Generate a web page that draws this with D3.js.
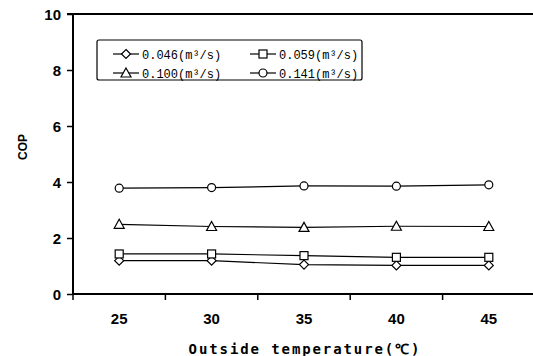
<!DOCTYPE html>
<html><head><meta charset="utf-8">
<script src="https://cdn.jsdelivr.net/npm/d3@7"></script>
<style>body{margin:0;background:#fff;} svg{display:block;}</style>
</head><body>
<svg id="c" width="533" height="356"></svg>
<script>
const categories = ["25","30","35","40","45"];
const seriesNames = ["0.046(m³/s)","0.059(m³/s)","0.100(m³/s)","0.141(m³/s)"];
const s046 = [1.19,1.19,1.05,1.02,1.02];
const s059 = [1.43,1.43,1.37,1.31,1.31];
const s100 = [2.49,2.41,2.38,2.42,2.41];
const s141 = [3.78,3.80,3.86,3.85,3.90];
const yTicks = [0,2,4,6,8,10];
const markers = ["diamond","square","triangle","circle"];
const allSeries = [s046,s059,s100,s141];

const svg = d3.select("#c");
const L=73, R=535, T=14, B=294;
const x = d3.scaleBand().domain(categories).range([L,R]).paddingInner(0).paddingOuter(0);
const y = d3.scaleLinear().domain([0,10]).range([B,T]);

// frame top
svg.append("line").attr("x1",L).attr("x2",533).attr("y1",T).attr("y2",T).attr("stroke","#000").attr("stroke-width",2);

// y axis
const ya = svg.append("g").attr("transform",`translate(${L},0)`)
  .call(d3.axisLeft(y).tickValues(yTicks).tickSize(6).tickPadding(6).tickFormat(d3.format("d")));
ya.select(".domain").attr("stroke-width",2).attr("d",`M-6,${T}H0V${B}`);
ya.selectAll(".tick line").attr("stroke-width",1.5);
ya.selectAll("text").attr("font-family","Liberation Sans, Arial, sans-serif").attr("font-weight","bold").attr("font-size",15).attr("fill","#000").attr("dy","0.36em");

// x axis: labels centered, ticks at band boundaries
const xa = svg.append("g").attr("transform",`translate(0,${B})`)
  .call(d3.axisBottom(x).tickSize(0).tickPadding(19));
xa.select(".domain").attr("stroke-width",2).attr("d",`M${L},0H533`);
xa.selectAll("text").attr("font-family","Liberation Sans, Arial, sans-serif").attr("font-weight","bold").attr("font-size",15).attr("fill","#000");
const bounds = categories.map(c=>x(c));
svg.append("g").selectAll("line").data(bounds).join("line")
  .attr("x1",d=>d).attr("x2",d=>d).attr("y1",B).attr("y2",B+6)
  .attr("stroke","#000").attr("stroke-width",1.5);

// axis titles
svg.append("text").attr("x",305).attr("y",354).attr("text-anchor","middle")
  .attr("font-family","DejaVu Sans Mono, monospace").attr("font-weight","bold").attr("font-size",14)
  .attr("letter-spacing","1.9px").text("Outside temperature(℃)");
svg.append("text").attr("transform","translate(27,147) rotate(-90)").attr("text-anchor","middle")
  .attr("font-family","Liberation Sans, Arial, sans-serif").attr("font-weight","bold").attr("font-size",12)
  .text("COP");

function drawMarker(g, type, cx, cy){
  if(type==="circle") g.append("circle").attr("cx",cx).attr("cy",cy).attr("r",4);
  else if(type==="square") g.append("rect").attr("x",cx-4).attr("y",cy-4).attr("width",8).attr("height",8);
  else if(type==="triangle") g.append("path").attr("d",`M${cx},${cy-5}L${cx+5},${cy+4}L${cx-5},${cy+4}Z`);
  else if(type==="diamond") g.append("path").attr("d",`M${cx},${cy-4.5}L${cx+4.5},${cy}L${cx},${cy+4.5}L${cx-4.5},${cy}Z`);
}

const line = d3.line().x((d,i)=>x(categories[i])+x.bandwidth()/2).y(d=>y(d));
allSeries.forEach((s,k)=>{
  svg.append("path").datum(s).attr("d",line).attr("fill","none").attr("stroke","#000").attr("stroke-width",1.2);
  const g = svg.append("g").attr("fill","#fff").attr("stroke","#000").attr("stroke-width",1.2);
  s.forEach((v,i)=>drawMarker(g, markers[k], x(categories[i])+x.bandwidth()/2, y(v)));
});

// legend
const lg = svg.append("g");
lg.append("rect").attr("x",97).attr("y",40).attr("width",265).attr("height",40).attr("fill","#fff").attr("stroke","#000").attr("stroke-width",1.2).attr("rx",2);
const pos = [[113,54],[250,54],[113,73],[250,73]];
seriesNames.forEach((n,k)=>{
  const [lx,ly]=pos[k];
  lg.append("line").attr("x1",lx).attr("x2",lx+26).attr("y1",ly).attr("y2",ly).attr("stroke","#000").attr("stroke-width",1.2);
  const g = lg.append("g").attr("fill","#fff").attr("stroke","#000").attr("stroke-width",1.2);
  drawMarker(g, markers[k], lx+13, ly);
  lg.append("text").attr("x",lx+29).attr("y",ly+4.5).attr("font-family","Liberation Mono, monospace").attr("font-size",12).text(n);
});
</script>
</body></html>
